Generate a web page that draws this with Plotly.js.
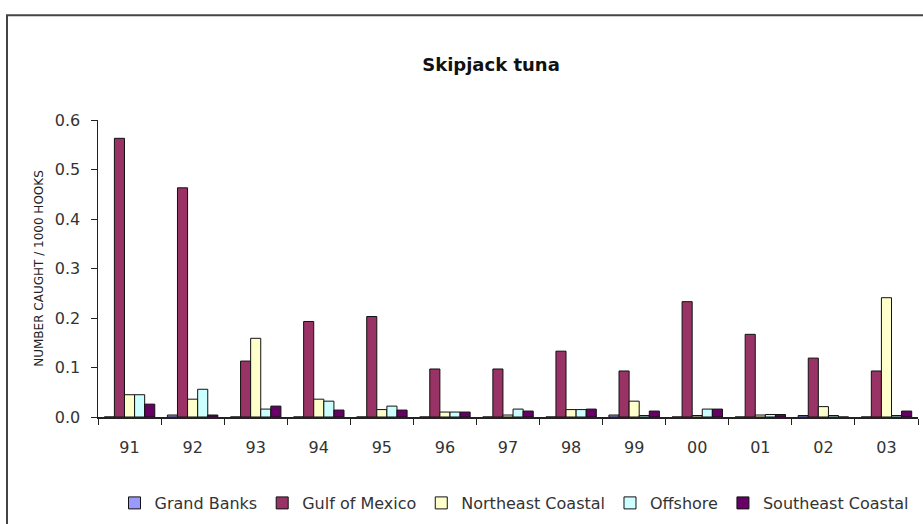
<!DOCTYPE html>
<html>
<head>
<meta charset="utf-8">
<script src="https://cdn.plot.ly/plotly-3.0.1.min.js"></script>
<style>
  html, body { margin: 0; padding: 0; background: #ffffff; }
  #chart { width: 923px; height: 524px; }
</style>
</head>
<body>
<div id="chart"></div>
<script>
// Skipjack tuna catch rate by fishing area, 1991-2003
const years = ['91', '92', '93', '94', '95', '96', '97', '98', '99', '00', '01', '02', '03'];

const grandBanks       = [0, 0.004, 0, 0, 0, 0, 0, 0, 0.004, 0, 0, 0.003, 0];
const gulfOfMexico     = [0.563, 0.463, 0.113, 0.193, 0.203, 0.097, 0.097, 0.133, 0.093, 0.233, 0.167, 0.119, 0.093];
const northeastCoastal = [0.045, 0.036, 0.159, 0.036, 0.015, 0.010, 0.004, 0.015, 0.032, 0.003, 0.004, 0.021, 0.241];
const offshore         = [0.045, 0.056, 0.016, 0.032, 0.022, 0.010, 0.016, 0.015, 0.003, 0.016, 0.005, 0.003, 0.003];
const southeastCoastal = [0.026, 0.004, 0.022, 0.014, 0.014, 0.010, 0.012, 0.016, 0.012, 0.016, 0.005, 0, 0.012];

const seriesNames  = ['Grand Banks', 'Gulf of Mexico', 'Northeast Coastal', 'Offshore', 'Southeast Coastal'];
const seriesValues = [grandBanks, gulfOfMexico, northeastCoastal, offshore, southeastCoastal];
const seriesColors = ['#9999FF', '#993366', '#FFFFCC', '#CCFFFF', '#660066'];

const FONT = 'DejaVu Sans, Arial, sans-serif';

const traces = seriesNames.map((name, i) => ({
  type: 'bar',
  name: name,
  x: years,
  y: seriesValues[i],
  marker: { color: seriesColors[i], line: { color: '#111111', width: 1 } },
  hoverinfo: 'x+y+name'
}));

// Plot area geometry (pixels) used to place the frame, title and legend
const L = 98, R = 5, T = 120, B = 106;
const W = 923 - L - R, H = 524 - T - B;
const px = v => (v - L) / W;
const py = v => (524 - B - v) / H;

const layout = {
  width: 923,
  height: 524,
  margin: { l: L, r: R, t: T, b: B, pad: 0 },
  paper_bgcolor: '#ffffff',
  plot_bgcolor: '#ffffff',
  font: { family: FONT, color: '#333333', size: 16 },
  title: {
    text: '<b>Skipjack tuna</b>',
    font: { family: FONT, size: 18, color: '#111111' },
    xref: 'container', yref: 'container',
    x: 491 / 923, y: 1 - 65 / 524,
    xanchor: 'center', yanchor: 'middle'
  },
  barmode: 'group',
  bargap: 0.2,
  bargroupgap: 0,
  xaxis: {
    type: 'category',
    tickson: 'boundaries',
    ticks: 'outside',
    ticklen: 6,
    tickcolor: '#222222',
    showline: true,
    linecolor: '#222222',
    linewidth: 1.5,
    showgrid: false,
    zeroline: false,
    ticklabelstandoff: 15,
    tickfont: { family: FONT, size: 16, color: '#333333' },
    fixedrange: true
  },
  yaxis: {
    range: [0, 0.6],
    dtick: 0.1,
    tickformat: '.1f',
    ticks: 'outside',
    ticklen: 6,
    tickcolor: '#222222',
    showline: true,
    linecolor: '#222222',
    linewidth: 1.5,
    showgrid: false,
    zeroline: false,
    ticklabelstandoff: 7,
    tickfont: { family: FONT, size: 16, color: '#333333' },
    title: {
      text: 'NUMBER CAUGHT / 1000 HOOKS',
      font: { family: FONT, size: 12, color: '#222222' },
      standoff: 8
    },
    fixedrange: true
  },
  legend: {
    orientation: 'h',
    x: px(514), y: py(503),
    xanchor: 'center', yanchor: 'middle',
    font: { family: FONT, size: 16, color: '#333333' },
    itemwidth: 30,
    tracegroupgap: 0,
    bgcolor: 'rgba(0,0,0,0)'
  },
  shapes: [{
    type: 'rect',
    xref: 'paper', yref: 'paper',
    x0: px(7), x1: px(940),
    y0: py(540), y1: py(15),
    line: { color: '#444444', width: 2 },
    fillcolor: 'rgba(0,0,0,0)',
    layer: 'below'
  }]
};

Plotly.newPlot('chart', traces, layout, { displayModeBar: false, staticPlot: true });
</script>
</body>
</html>
